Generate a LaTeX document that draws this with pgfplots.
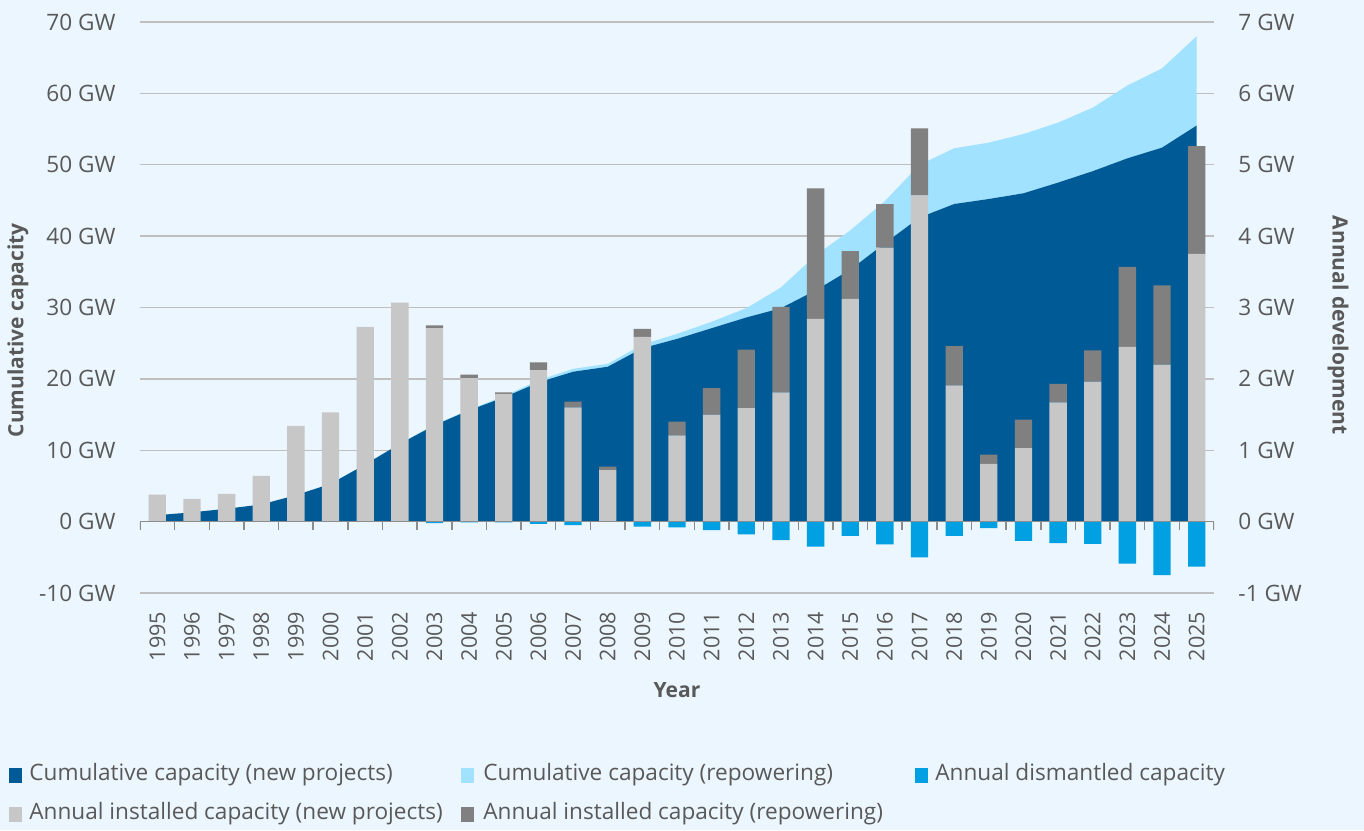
\documentclass[border=0pt]{standalone}
\usepackage{pgfplots}
\usepackage{pgfplotstable}
\pgfplotsset{compat=1.18}
\usepackage{fontspec}
\setmainfont{Open Sans}

\definecolor{bgcol}{HTML}{EBF6FE}
\definecolor{cumnew}{HTML}{005A96}
\definecolor{cumrep}{HTML}{A0E2FF}
\definecolor{dism}{HTML}{00A0E3}
\definecolor{annnew}{HTML}{C7C7C7}
\definecolor{annrep}{HTML}{808080}
\definecolor{gridc}{HTML}{BFBFBF}
\definecolor{axc}{HTML}{8C8C8C}
\definecolor{txt}{HTML}{595959}

% x = 0 is 1995
\pgfplotstableread{
x  cn    cr    an    ar    dm
0  0.9   0     0.38  0     0
1  1.3   0     0.32  0     0
2  1.8   0     0.39  0     0
3  2.4   0     0.64  0     0
4  3.7   0     1.34  0     0
5  5.3   0     1.53  0     0
6  8.0   0     2.73  0     0
7  10.9  0     3.07  0     0
8  13.5  0.05  2.71  0.04  -0.02
9  15.6  0.1   2.01  0.05  -0.01
10 17.4  0.15  1.79  0.02  -0.01
11 19.5  0.3   2.12  0.11  -0.03
12 21.0  0.4   1.60  0.08  -0.05
13 21.7  0.4   0.72  0.05  0
14 24.3  0.5   2.59  0.11  -0.07
15 25.6  0.7   1.21  0.19  -0.08
16 27.1  0.9   1.50  0.37  -0.12
17 28.6  1.3   1.59  0.82  -0.18
18 29.9  2.9   1.81  1.20  -0.26
19 32.4  4.9   2.84  1.83  -0.35
20 35.3  5.5   3.12  0.67  -0.20
21 39.0  5.9   3.84  0.61  -0.32
22 42.6  7.4   4.57  0.94  -0.50
23 44.5  7.8   1.91  0.55  -0.20
24 45.2  7.9   0.81  0.13  -0.09
25 46.0  8.3   1.03  0.40  -0.27
26 47.5  8.4   1.67  0.26  -0.30
27 49.1  8.9   1.96  0.44  -0.31
28 50.9  10.2  2.45  1.12  -0.59
29 52.4  11.1  2.20  1.11  -0.75
30 55.5  12.5  3.75  1.51  -0.63
}\data

\pgfplotsset{
  every axis/.append style={
    scale only axis, width=537pt, height=285.5pt,
    at={(0,0)}, anchor=south west,
    xmin=-0.5, xmax=30.5,
    axis line style={draw=none}, tick style={draw=none},
    font=\fontsize{11.3}{13}\selectfont, text=txt,
  },
  every axis label/.append style={font=\fontsize{10.5}{12}\selectfont\bfseries},
}

\begin{document}
\begin{tikzpicture}
\fill[bgcol] (-70pt,-118.5pt) rectangle (612pt,296.5pt);

% left axis: cumulative areas
\begin{axis}[
  ymin=-10, ymax=70,
  ytick={-10,0,10,20,30,40,50,60,70},
  yticklabels={-10 GW,0 GW,10 GW,20 GW,30 GW,40 GW,50 GW,60 GW,70 GW},
  yticklabel style={xshift=-8.7pt},
  xtick={0,...,30},
  xticklabels={1995,1996,1997,1998,1999,2000,2001,2002,2003,2004,2005,2006,2007,2008,2009,2010,2011,2012,2013,2014,2015,2016,2017,2018,2019,2020,2021,2022,2023,2024,2025},
  xticklabel style={rotate=90, anchor=east, xshift=-5.9pt, font=\fontsize{10.8}{12}\selectfont},
  ymajorgrids, grid style={gridc, line width=0.75pt},
  ylabel={Cumulative capacity},
  ylabel style={at={(axis description cs:-0.1136,0.46)}, anchor=center},
  xlabel={Year},
  xlabel style={at={(axis description cs:0.5,-0.17)}, anchor=center},
  stack plots=y,
]
\addplot[fill=cumnew, draw=none] table[x=x, y=cn] {\data} \closedcycle;
\addplot[fill=cumrep, draw=none] table[x=x, y=cr] {\data} \closedcycle;
\end{axis}

% right axis: annual installed
\begin{axis}[
  ymin=-1, ymax=7,
  axis y line*=right, hide x axis,
  ytick={-1,0,1,2,3,4,5,6,7},
  yticklabels={-1 GW,0 GW,1 GW,2 GW,3 GW,4 GW,5 GW,6 GW,7 GW},
  yticklabel style={xshift=8.7pt},
  ylabel={Annual development},
  ylabel style={at={(axis description cs:1.1155,0.469)}, anchor=center, rotate=180},
  ybar stacked, bar width=0.5,
]
\addplot[fill=annnew, draw=none] table[x=x, y=an] {\data};
\addplot[fill=annrep, draw=none] table[x=x, y=ar] {\data};
\end{axis}

% dismantled + zero line
\begin{axis}[
  ymin=-1, ymax=7, hide axis,
  ybar, bar width=0.5, bar shift=0pt,
]
\addplot[fill=dism, draw=none] table[x=x, y=dm] {\data};
\draw[axc, line width=0.75pt] (axis cs:-0.5,0) -- (axis cs:30.5,0);
\pgfplotsinvokeforeach{-0.5,0.5,...,30.5}{
  \draw[axc, line width=0.75pt] (axis cs:#1,0) -- ([yshift=-4pt]axis cs:#1,0);
}
\end{axis}

% legend
\begin{scope}[font=\fontsize{11.3}{13}\selectfont, text=txt]
\fill[cumnew] (-65.5pt,-94.75pt) rectangle ++(6.5pt,7.5pt);
\node[anchor=west, inner sep=0pt] at (-55.5pt,-91pt) {Cumulative capacity (new projects)};
\fill[cumrep] (160.5pt,-94.75pt) rectangle ++(6.5pt,7.5pt);
\node[anchor=west, inner sep=0pt] at (171.5pt,-91pt) {Cumulative capacity (repowering)};
\fill[dism] (387.5pt,-94.75pt) rectangle ++(6.5pt,7.5pt);
\node[anchor=west, inner sep=0pt] at (397.5pt,-91pt) {Annual dismantled capacity};
\fill[annnew] (-65.5pt,-114.25pt) rectangle ++(6.5pt,7.5pt);
\node[anchor=west, inner sep=0pt] at (-55.5pt,-110.5pt) {Annual installed capacity (new projects)};
\fill[annrep] (160.5pt,-114.25pt) rectangle ++(6.5pt,7.5pt);
\node[anchor=west, inner sep=0pt] at (171.5pt,-110.5pt) {Annual installed capacity (repowering)};
\end{scope}
\end{tikzpicture}
\end{document}
